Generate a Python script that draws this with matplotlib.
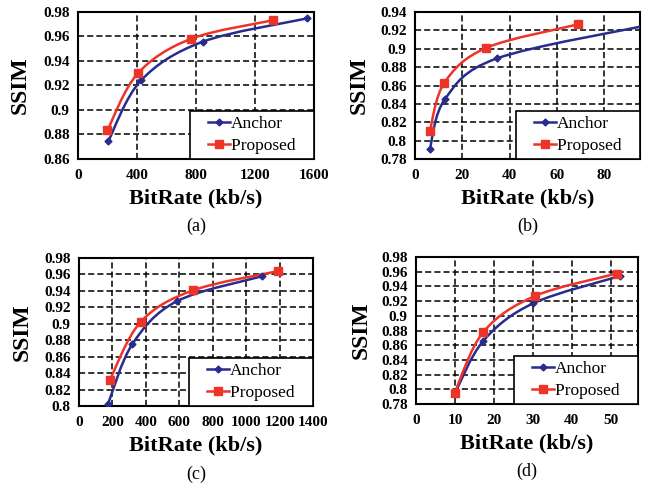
import numpy as np
import matplotlib
matplotlib.use("Agg")
import matplotlib.pyplot as plt
from matplotlib.path import Path
from matplotlib.patches import PathPatch
from matplotlib.lines import Line2D
from matplotlib.legend_handler import HandlerLine2D
from matplotlib.ticker import FuncFormatter

plt.rcParams['font.family'] = ['Liberation Serif', 'DejaVu Serif']

# (a)
a_anchor_x = [205, 427, 845, 1550]
a_anchor_y = [0.8745, 0.9241, 0.9557, 0.9747]
a_prop_x = [199, 405, 766, 1324]
a_prop_y = [0.8833, 0.9298, 0.9581, 0.9733]

# (b) - last anchor point lies past the right edge of the axes
b_anchor_x = [6.3, 12.7, 34.5, 100]
b_anchor_y = [0.7914, 0.8454, 0.8894, 0.9265]
b_prop_x = [6.3, 12.4, 30.0, 68.8]
b_prop_y = [0.8108, 0.8630, 0.9009, 0.9265]

# (c)
c_anchor_x = [174, 320, 585, 1097]
c_anchor_y = [0.8027, 0.8755, 0.9274, 0.9579]
c_prop_x = [185, 369, 680, 1190]
c_prop_y = [0.8320, 0.9023, 0.9405, 0.9640]

# (d)
d_anchor_x = [9.9, 17.3, 30.1, 52.3]
d_anchor_y = [0.7936, 0.8660, 0.9170, 0.9540]
d_prop_x = [9.9, 17.3, 30.6, 51.6]
d_prop_y = [0.7950, 0.8780, 0.9270, 0.9575]

panels = [
    ("(a)", a_anchor_x, a_anchor_y, a_prop_x, a_prop_y,
     (0, 1600), np.arange(0, 1601, 400), (0.86, 0.98)),
    ("(b)", b_anchor_x, b_anchor_y, b_prop_x, b_prop_y,
     (0, 95), np.arange(0, 81, 20), (0.78, 0.94)),
    ("(c)", c_anchor_x, c_anchor_y, c_prop_x, c_prop_y,
     (0, 1400), np.arange(0, 1401, 200), (0.80, 0.98)),
    ("(d)", d_anchor_x, d_anchor_y, d_prop_x, d_prop_y,
     (0, 57), np.arange(0, 51, 10), (0.78, 0.98)),
]

# axes rectangles in pixels (left, top, right, bottom) of a 655x491 figure
boxes = [(78, 12, 314, 159), (415, 12, 640, 159),
         (79, 258, 313, 406), (416, 257, 638, 404)]

W, H = 655, 491
BLUE = "#282c8c"
RED = "#ee3429"


def smooth_path(xs, ys):
    # Excel style smoothed line: Catmull-Rom segments as cubic Beziers
    pts = np.column_stack([xs, ys]).astype(float)
    n = len(pts)
    verts = [pts[0]]
    codes = [Path.MOVETO]
    for i in range(n - 1):
        p0 = pts[max(i - 1, 0)]
        p1 = pts[i]
        p2 = pts[i + 1]
        p3 = pts[min(i + 2, n - 1)]
        verts += [p1 + (p2 - p0) / 6, p2 - (p3 - p1) / 6, p2]
        codes += [Path.CURVE4] * 3
    return Path(verts, codes)


def ytick_fmt(v, pos):
    return f"{v:.2f}".rstrip('0').rstrip('.')


fig = plt.figure(figsize=(6.55, 4.91), dpi=100)

for (tag, ax_x, ax_y, pr_x, pr_y, xlim, xticks, ylim), (l, t, r, b) in zip(panels, boxes):
    ax = fig.add_axes([l / W, 1 - b / H, (r - l) / W, (b - t) / H])
    ax.set_xlim(*xlim)
    ax.set_ylim(*ylim)
    ax.set_xticks(xticks)
    ax.set_yticks(np.arange(ylim[0], ylim[1] + 1e-9, 0.02))
    ax.yaxis.set_major_formatter(FuncFormatter(ytick_fmt))
    ax.grid(True, color='black', linestyle=(0, (4, 2)), linewidth=1.1)
    ax.set_axisbelow(True)
    for sp in ax.spines.values():
        sp.set_linewidth(1.5)
    ax.tick_params(axis='x', length=0, pad=7, labelsize=11)
    ax.tick_params(axis='y', length=0, pad=6, labelsize=11)
    for lab in ax.get_xticklabels() + ax.get_yticklabels():
        lab.set_fontweight('bold')

    for xs, ys, col, mk, ms in [(ax_x, ax_y, BLUE, 'D', 3.5),
                                (pr_x, pr_y, RED, 's', 5.5)]:
        ax.add_patch(PathPatch(smooth_path(xs, ys), fill=False,
                               edgecolor=col, linewidth=1.8, zorder=3))
        ax.plot(xs, ys, linestyle='none', marker=mk, markersize=ms,
                color=col, zorder=4)

    handles = [Line2D([], [], color=BLUE, lw=1.8, marker='D', markersize=3.5),
               Line2D([], [], color=RED, lw=1.8, marker='s', markersize=5.5)]
    leg = ax.legend(handles, ["Anchor", "Proposed   "], loc='lower right',
                    borderaxespad=0, fancybox=False, framealpha=1,
                    edgecolor='black', fontsize=12.5, handlelength=2.0,
                    handletextpad=0.05, borderpad=0.3, labelspacing=0.3,
                    handler_map={Line2D: HandlerLine2D(xpad=0.75)})
    leg.get_frame().set_linewidth(1.2)

    ax.set_ylabel("SSIM", fontsize=17, fontweight='bold')
    ax.yaxis.set_label_coords(-0.2, 0.5)
    ax.set_xlabel("BitRate (kb/s)", fontsize=16, fontweight='bold')
    ax.xaxis.set_label_coords(0.5, -0.2)
    ax.text(0.5, -0.46, tag, transform=ax.transAxes, ha='center',
            va='center', fontsize=13)

fig.savefig("out.png", dpi=100)
